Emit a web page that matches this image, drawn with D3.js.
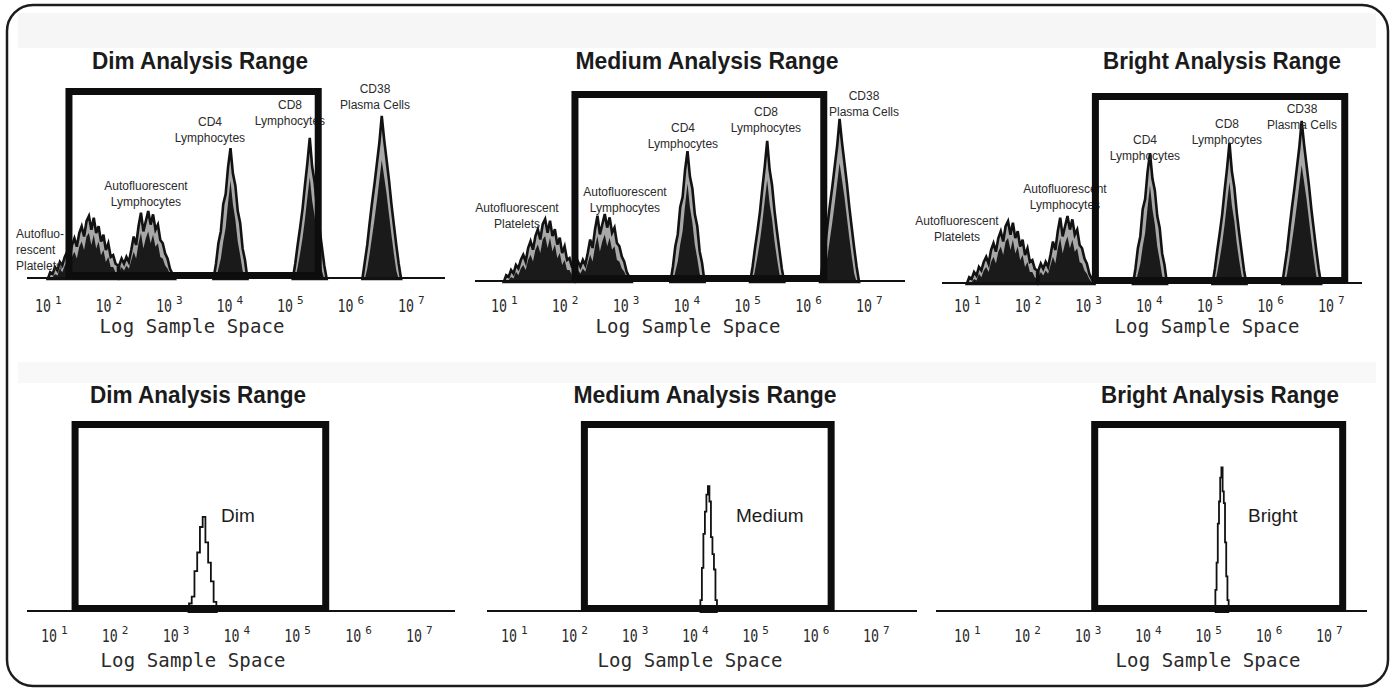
<!DOCTYPE html>
<html>
<head>
<meta charset="utf-8">
<script src="https://cdn.jsdelivr.net/npm/d3@7/dist/d3.min.js"></script>
<style>
  body { margin: 0; background: #fff; }
  svg { display: block; }
  .title { font-family: "Liberation Sans", Arial, sans-serif; font-weight: bold; font-size: 24px; fill: #1b1b1b; }
  .lbl { font-family: "Liberation Sans", Arial, sans-serif; font-size: 12px; fill: #2b2b2b; }
  .big { font-family: "Liberation Sans", Arial, sans-serif; font-size: 19px; fill: #1b1b1b; }
  .tick { font-family: "DejaVu Sans Mono", monospace; font-size: 18px; fill: #2a2a2a; }
  .sup { font-family: "DejaVu Sans Mono", monospace; font-size: 11px; fill: #2a2a2a; }
  .axlabel { font-family: "DejaVu Sans Mono", monospace; font-size: 19px; fill: #2a2a2a; }
</style>
</head>
<body>
<svg id="chart" width="1393" height="689"></svg>
<script>

// ---- data ----
var decades = [1, 2, 3, 4, 5, 6, 7];
var rangeNames = ["Dim", "Medium", "Bright"];

// analysis gates, log10 of sample space
var gateLow  = [1.33, 2.15, 3.10];
var gateHigh = [5.45, 6.24, 7.21];

// top row: same sample, five populations (counts on a 0-100 scale)
var popLines = [
  ["Autofluorescent", "Platelets"],
  ["Autofluorescent", "Lymphocytes"],
  ["CD4", "Lymphocytes"],
  ["CD8", "Lymphocytes"],
  ["CD38", "Plasma Cells"]
];
var popStart = [0.98, 2.16, 3.72, 5.03, 6.18];
var popStep = 0.04;
var popOuter = [
  [0, 4, 3, 7, 5, 10, 8, 13, 16, 12, 20, 24, 19, 27, 31, 25, 34, 37, 29, 36, 27, 31, 22, 26, 17, 21, 13, 14, 9, 8],
  [8, 12, 9, 13, 10, 17, 25, 20, 31, 39, 28, 34, 40, 32, 38, 29, 32, 23, 21, 15, 12, 6, 3, 0],
  [0, 9, 21, 28, 44, 50, 66, 77, 62, 55, 40, 33, 18, 11, 0],
  [0, 9, 20, 30, 41, 55, 68, 83, 66, 57, 42, 30, 19, 8, 0],
  [0, 10, 20, 33, 45, 56, 68, 80, 96, 82, 70, 58, 44, 32, 20, 9, 0]
];
var popCore = [
  [0, 1, 1, 3, 2, 6, 4, 8, 10, 7, 13, 16, 12, 19, 22, 17, 25, 27, 20, 26, 18, 22, 14, 17, 10, 13, 7, 7, 4, 3],
  [4, 7, 5, 8, 6, 11, 16, 12, 21, 27, 18, 24, 28, 21, 26, 19, 21, 13, 12, 8, 6, 3, 1, 0],
  [0, 0, 6, 12, 22, 30, 45, 58, 44, 35, 22, 14, 5, 0, 0],
  [0, 0, 7, 15, 24, 35, 48, 60, 46, 37, 24, 14, 5, 0, 0],
  [0, 0, 6, 15, 25, 35, 46, 58, 70, 60, 50, 38, 26, 15, 5, 0, 0]
];

// bottom row: one bead population per range
var sampleStart = [3.18, 4.06, 5.09];
var sampleStep = [0.045, 0.025, 0.02];
var sampleCounts = [
  [0, 5, 9, 24, 35, 50, 56, 41, 29, 18, 6, 0],
  [0, 7, 26, 46, 59, 69, 74, 65, 44, 34, 25, 7, 0],
  [0, 13, 29, 52, 65, 79, 85, 71, 64, 41, 21, 7, 0]
];

// ---- layout ----
var panels = [
  {row: 0, r: 0, x1: 49,  x7: 412,  base: 279, line: [27, 445],   titleX: 200,  axisX: 192},
  {row: 0, r: 1, x1: 505, x7: 870,  base: 282, line: [475, 905],  titleX: 707,  axisX: 688},
  {row: 0, r: 2, x1: 968, x7: 1332, base: 284, line: [942, 1362], titleX: 1222, axisX: 1207},
  {row: 1, r: 0, x1: 55,  x7: 420,  base: 612, line: [27, 455],   titleX: 198,  axisX: 193},
  {row: 1, r: 1, x1: 515, x7: 877,  base: 612, line: [487, 917],  titleX: 705,  axisX: 690},
  {row: 1, r: 2, x1: 968, x7: 1330, base: 612, line: [936, 1367], titleX: 1220, axisX: 1208}
];
var titleWidth = [216, 263, 238];
var labelPos = [
  [[16, 238], [146, 190], [210, 126], [290, 109], [375, 93]],
  [[517, 212], [625, 196], [683, 132], [766, 116], [864, 100]],
  [[957, 225], [1065, 193], [1145, 144], [1227, 128], [1302, 113]]
];
var sampleLabelX = [221, 736, 1248];

var svg = d3.select("#chart");

// faint scan-grey bands
svg.append("rect").attr("x", 18).attr("y", 13).attr("width", 1358).attr("height", 35).attr("fill", "#f6f6f6");
svg.append("rect").attr("x", 18).attr("y", 362).attr("width", 1358).attr("height", 21).attr("fill", "#f8f8f8");

// rounded frame
svg.append("rect")
    .attr("x", 7).attr("y", 5)
    .attr("width", 1381).attr("height", 681)
    .attr("rx", 26).attr("ry", 26)
    .attr("fill", "none")
    .attr("stroke", "#1c1c1c")
    .attr("stroke-width", 2.5);

panels.forEach(function(p) {
  var g = svg.append("g");
  var x = d3.scaleLog().domain([10, 1e7]).range([p.x1, p.x7]);
  var y = d3.scaleLinear().domain([0, 100]).range([p.base, p.base - 170]);
  var top = p.row === 0;
  var titleY = top ? 69 : 403;
  var tickY = top ? 312 : 642;
  var axisY = top ? 333 : 667;

  g.append("text")
      .attr("class", "title")
      .attr("x", p.titleX).attr("y", titleY)
      .attr("text-anchor", "middle")
      .attr("textLength", titleWidth[p.r])
      .attr("lengthAdjust", "spacingAndGlyphs")
      .text(rangeNames[p.r] + " Analysis Range");

  var area = d3.area()
      .x(function(d) { return x(Math.pow(10, d[0])); })
      .y0(p.base)
      .y1(function(d) { return y(d[1]); });

  if (top) {
    popOuter.forEach(function(counts, i) {
      var outer = counts.map(function(c, k) { return [popStart[i] + k * popStep, c]; });
      var core = popCore[i].map(function(c, k) { return [popStart[i] + k * popStep, c]; });
      g.append("path")
          .attr("d", area(outer))
          .attr("fill", "#6e6e6e")
          .attr("fill-opacity", 0.6)
          .attr("stroke", "#121212")
          .attr("stroke-width", 2.6)
          .attr("stroke-linejoin", "miter");
      g.append("path")
          .attr("d", area(core))
          .attr("fill", "#0e0e0e")
          .attr("fill-opacity", 0.92);
    });

    popLines.forEach(function(lines, i) {
      var pos = labelPos[p.r][i];
      var ls = lines, anchor = "middle";
      if (p.r === 0 && i === 0) { ls = ["Autofluo-", "rescent", "Platelets"]; anchor = "start"; }
      ls.forEach(function(s, k) {
        g.append("text")
            .attr("class", "lbl")
            .attr("text-anchor", anchor)
            .attr("x", pos[0]).attr("y", pos[1] + k * 16)
            .text(s);
      });
    });
  } else {
    var pts = sampleCounts[p.r].map(function(c, k) { return [sampleStart[p.r] + k * sampleStep[p.r], c]; });
    g.append("path")
        .attr("d", area.curve(d3.curveStep)(pts))
        .attr("fill", "#fff")
        .attr("stroke", "#111")
        .attr("stroke-width", 1.8);
    g.append("text")
        .attr("class", "big")
        .attr("x", sampleLabelX[p.r]).attr("y", 522)
        .text(rangeNames[p.r]);
  }

  // baseline
  g.append("line")
      .attr("x1", p.line[0]).attr("x2", p.line[1])
      .attr("y1", p.base - 1).attr("y2", p.base - 1)
      .attr("stroke", "#111")
      .attr("stroke-width", 2);

  // analysis gate
  var gx0 = x(Math.pow(10, gateLow[p.r])), gx1 = x(Math.pow(10, gateHigh[p.r]));
  g.append("rect")
      .attr("x", gx0).attr("y", p.base - 187.5)
      .attr("width", gx1 - gx0).attr("height", 184)
      .attr("fill", "none")
      .attr("stroke", "#0d0d0d")
      .attr("stroke-width", 7);

  // tick labels 10^n : base and exponent as separate texts
  g.selectAll(".tick")
    .data(decades)
    .join("text")
      .attr("class", "tick")
      .attr("x", function(d) { return x(Math.pow(10, d)) + 2; })
      .attr("y", tickY)
      .attr("text-anchor", "end")
      .attr("textLength", 16)
      .attr("lengthAdjust", "spacingAndGlyphs")
      .text("10");
  g.selectAll(".sup")
    .data(decades)
    .join("text")
      .attr("class", "sup")
      .attr("x", function(d) { return x(Math.pow(10, d)) + 6; })
      .attr("y", tickY - 8)
      .text(function(d) { return d; });

  g.append("text")
      .attr("class", "axlabel")
      .attr("x", p.axisX).attr("y", axisY)
      .attr("text-anchor", "middle")
      .attr("textLength", 185)
      .attr("lengthAdjust", "spacing")
      .text("Log Sample Space");
});

</script>
</body>
</html>
